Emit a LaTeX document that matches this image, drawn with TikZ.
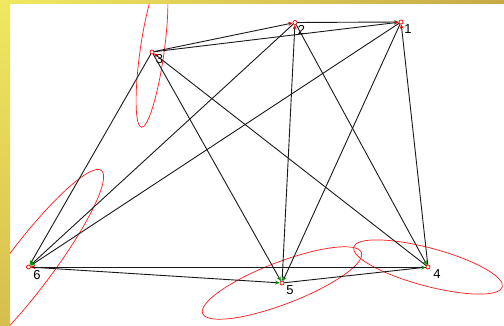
\documentclass[tikz,border=0pt]{standalone}
\usepackage{fontspec}
\setsansfont{Liberation Sans}
\usetikzlibrary{arrows.meta, positioning}

\definecolor{stripyellow}{RGB}{240,232,96}
\definecolor{stripochre}{RGB}{214,190,78}
\definecolor{stripgold}{RGB}{200,168,72}
\definecolor{tipgreen}{RGB}{0,150,0}

\begin{document}
\begin{tikzpicture}[x=1pt, y=-1pt, >=Stealth,
    vtx/.style={circle, draw=red, line width=0.7pt, minimum size=4pt, inner sep=0pt},
    lbl/.style={inner sep=0pt, font=\sffamily\fontsize{13}{13}\selectfont},
    link/.style={draw=black!90, line width=0.9pt},
    tored/.style={link, -{Stealth[red, length=4.5pt, width=4pt]}},
    togreen/.style={link, -{Stealth[tipgreen, length=4.5pt, width=4pt]}},
    ell/.style={draw=red!90, line width=0.7pt}
  ]
  \useasboundingbox (0,0) rectangle (504,326);
  \clip (0,0) rectangle (504,326);

  % Nodes
  \node[vtx] (n1) at (401,22) {};
  \node[vtx] (n2) at (295,22.5) {};
  \node[vtx] (n3) at (152,52) {};
  \node[vtx] (n4) at (428,267) {};
  \node[vtx] (n5) at (282,283) {};
  \node[vtx] (n6) at (28.5,267) {};

  % Labels
  \node[lbl, below right=0.5pt and 1.5pt of n1] (l1) {1};
  \node[lbl, below right=1.5pt and 1pt of n2]   (l2) {2};
  \node[lbl, below right=1pt and 2pt of n3]     (l3) {3};
  \node[lbl, below right=1pt and 3.5pt of n4]   (l4) {4};
  \node[lbl, below right=1pt and 2.5pt of n5]   (l5) {5};
  \node[lbl, below right=1.5pt and 3pt of n6]   (l6) {6};

  % Error ellipses
  \draw[ell, rotate around={82:(n3)}]  (n3) ellipse [x radius=76, y radius=12];
  \draw[ell, rotate around={53:(n6)}]  (n6) ellipse [x radius=121, y radius=23];
  \draw[ell, rotate around={21:(n5)}]  (n5) ellipse [x radius=85, y radius=21];
  \draw[ell, rotate around={-15:(n4)}] (n4) ellipse [x radius=77, y radius=19];

  % Links
  \draw[tored]   (n3) -- (n2);
  \draw[togreen] (n2) -- (n1);
  \draw[tored]   (n3) -- (n1);
  \draw[togreen] (n3) -- (n6);
  \draw[togreen] (n3) -- (n5);
  \draw[tored]   (n4) -- (n3);
  \draw[togreen] (n2) -- (n6);
  \draw[tored]   (n5) -- (n2);
  \draw[togreen] (n2) -- (n4);
  \draw[togreen] (n1) -- (n6);
  \draw[togreen] (n1) -- (n5);
  \draw[tored]   (n4) -- (n1);
  \draw[tored]   (n4) -- (n6);
  \draw[togreen] (n6) -- (n5);
  \draw[togreen] (n5) -- (n4);

  % Frame strips
  \shade[top color=stripyellow, bottom color=stripochre] (0,0) rectangle (10,326);
  \shade[left color=stripyellow, right color=stripgold] (10,0) rectangle (504,4);
\end{tikzpicture}
\end{document}
